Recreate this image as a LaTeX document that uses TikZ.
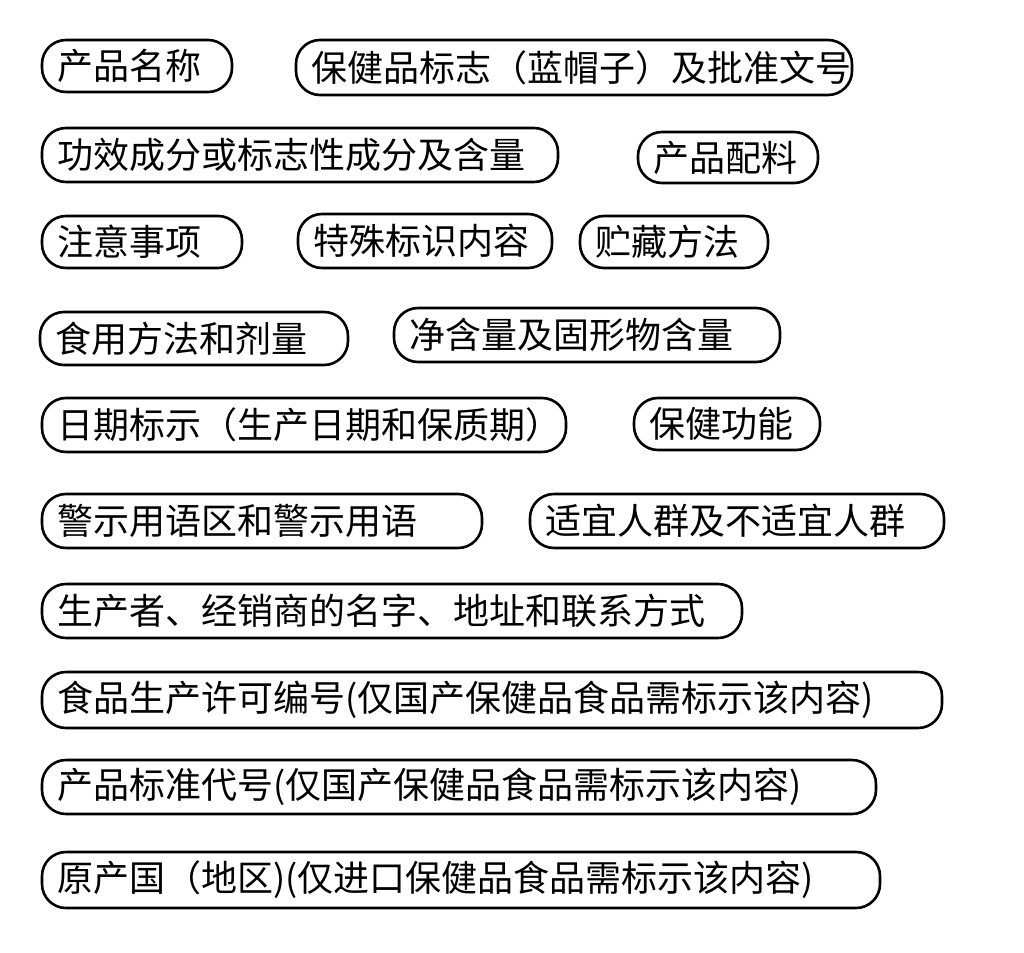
\documentclass[tikz,border=0pt]{standalone}
\usepackage{fontspec}
\setmainfont{Noto Sans CJK SC}
\begin{document}
\begin{tikzpicture}[x=1pt,y=-1pt,
  pill/.style={draw=black,line width=2.6pt,rounded corners=24pt,inner sep=0pt,
    align=left,font=\fontsize{36}{40}\selectfont,anchor=center}]
\useasboundingbox[fill=white] (0,0) rectangle (1024,952);
\newcommand\pill[6]{%
  \node[pill,minimum width={#4-#2},minimum height={#5-#3},text width={#4-#2-30}]
    (#1) at ({(#2+#4)/2},{(#3+#5)/2}) {#6};}
\pill{a}{42}{40}{232}{92}{产品名称}
\pill{b}{296}{40}{852}{95}{保健品标志（蓝帽子）及批准文号}
\pill{c}{42}{128}{558}{182}{功效成分或标志性成分及含量}
\pill{d}{638}{132}{818}{183}{产品配料}
\pill{e}{42}{216}{242}{268}{注意事项}
\pill{f}{298}{214}{552}{268}{特殊标识内容}
\pill{g}{580}{216}{768}{268}{贮藏方法}
\pill{h}{40}{312}{348}{365}{食用方法和剂量}
\pill{i}{394}{308}{780}{362}{净含量及固形物含量}
\pill{j}{42}{398}{566}{452}{日期标示（生产日期和保质期）}
\pill{k}{634}{398}{820}{450}{保健功能}
\pill{l}{42}{494}{482}{548}{警示用语区和警示用语}
\pill{m}{530}{494}{944}{548}{适宜人群及不适宜人群}
\pill{n}{42}{584}{742}{638}{生产者、经销商的名字、地址和联系方式}
\pill{o}{42}{672}{942}{728}{食品生产许可编号(仅国产保健品食品需标示该内容)}
\pill{p}{42}{760}{876}{814}{产品标准代号(仅国产保健品食品需标示该内容)}
\pill{q}{42}{852}{880}{908}{原产国（地区)(仅进口保健品食品需标示该内容)}
\end{tikzpicture}
\end{document}
